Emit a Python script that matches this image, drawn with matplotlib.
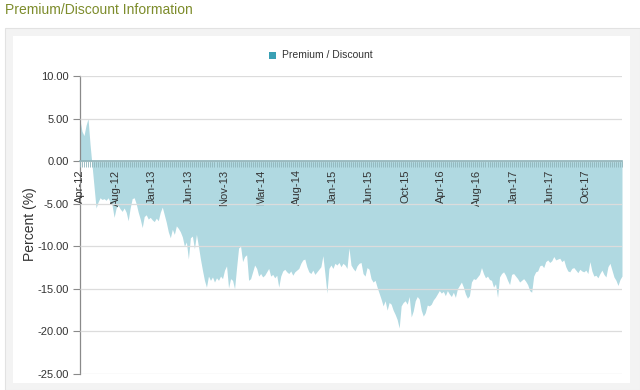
import matplotlib
matplotlib.use("Agg")
import matplotlib.pyplot as plt
from matplotlib.patches import Rectangle
from matplotlib.ticker import FixedLocator, MultipleLocator, FuncFormatter
import numpy as np

plt.rcParams['font.family'] = ['Liberation Sans', 'DejaVu Sans']

title = "Premium/Discount Information"
series_name = "Premium / Discount"
y_label = "Percent (%)"

tick_labels = ["Apr-12", "Aug-12", "Jan-13", "Jun-13", "Nov-13", "Mar-14", "Aug-14",
               "Jan-15", "Jun-15", "Oct-15", "Apr-16", "Aug-16", "Jan-17", "Jun-17", "Oct-17"]
label_step = 18

values_2012 = [4.8, 3.5, 3.0, 4.2, 5.0, 2.0, -0.5, -3.0, -5.5, -4.8, -4.3, -4.5, -4.4, -4.6,
               -4.3, -4.8, -5.2, -6.6, -5.5, -5.2, -5.6, -5.9, -5.5, -6.0, -7.0, -5.5, -4.4, -4.3,
               -5.0, -6.0, -6.8, -7.8, -6.5, -6.3, -6.8, -6.6]
values_2013 = [-6.9, -7.1, -6.7, -7.0, -6.0, -5.4, -6.3, -7.2, -8.3, -9.0, -8.0, -8.6, -7.6,
               -7.9, -8.3, -8.9, -10.0, -9.5, -11.5, -9.0, -8.8, -10.3, -8.6, -10.0, -11.5, -12.8,
               -14.0, -14.8, -13.5, -14.0, -13.6, -14.2, -13.7, -14.0, -13.5, -13.8, -12.8, -12.3,
               -14.9, -13.8, -14.0, -15.0, -12.5, -10.2, -10.0, -11.8, -11.2, -11.0]
values_2014 = [-14.0, -13.8, -13.0, -12.2, -12.6, -13.5, -13.2, -13.6, -13.4, -13.0, -12.6,
               -13.5, -13.3, -13.7, -13.4, -14.8, -13.5, -12.9, -12.7, -13.0, -13.2, -12.9, -13.4,
               -13.0, -12.8, -12.6, -12.0, -11.6, -11.5, -12.4, -13.0, -13.2, -12.8, -13.3, -13.0,
               -12.7, -12.4, -11.1, -13.2, -15.5, -12.6, -12.2, -12.6, -12.0, -12.2, -11.9, -12.4,
               -12.0, -12.2, -12.6]
values_2015 = [-10.2, -12.2, -12.6, -12.9, -12.3, -12.0, -11.9, -13.2, -13.5, -12.5, -12.7,
               -13.8, -14.2, -14.0, -14.8, -15.5, -16.2, -17.0, -16.4, -17.5, -16.6, -16.8, -17.5,
               -18.0, -18.6, -19.6, -17.0, -16.6, -16.4, -16.8, -15.9, -18.3, -17.6, -16.4, -15.9,
               -16.2, -17.5, -18.2, -17.8, -16.9, -17.0, -16.8, -16.3, -16.0, -15.6, -15.2, -15.5,
               -15.3, -15.8, -15.2, -15.6, -15.9, -15.4, -16.0]
values_2016 = [-15.0, -14.6, -14.2, -14.8, -15.6, -16.1, -15.8, -14.2, -13.8, -13.9, -13.6,
               -13.3, -12.5, -13.2, -13.7, -13.5, -13.9, -14.0, -14.8, -14.4, -16.0, -13.6, -13.2,
               -13.0, -13.4, -14.0, -14.5, -13.3, -13.2, -13.5, -13.8, -14.2, -14.0, -13.8, -14.1,
               -14.5, -15.2, -15.4, -13.5, -13.0, -12.9, -12.3, -12.2, -12.5, -11.8, -11.6, -11.9]
values_2017 = [-11.7, -11.2, -11.6, -11.5, -11.4, -11.8, -11.6, -12.4, -12.9, -13.0, -12.6,
               -12.5, -12.8, -13.1, -12.7, -12.9, -13.0, -12.8, -13.2, -11.8, -12.9, -13.5, -13.4,
               -13.7, -13.2, -12.8, -13.3, -13.6, -12.4, -12.0, -12.8, -13.6, -14.0, -14.6, -13.9,
               -13.5]

values = np.array(values_2012 + values_2013 + values_2014 + values_2015 + values_2016 + values_2017)
x = np.arange(len(values))

W, H = 640, 390
fig = plt.figure(figsize=(W / 100, H / 100), dpi=100)
fig.patch.set_facecolor('white')

# panel frame
fig.patches.append(Rectangle((5 / W, 0), 635 / W, 1 - 28 / H, transform=fig.transFigure,
                             facecolor='#f3f3f3', edgecolor='#e2e2e2', lw=0.8, zorder=-2))
fig.patches.append(Rectangle((13 / W, 7 / H), 617 / W, 1 - 36 / H - 7 / H, transform=fig.transFigure,
                             facecolor='white', edgecolor='none', zorder=-1))

fig.text(5 / W, 1 - 10 / H, title, fontsize=10, color='#7d8c2b', ha='left', va='center')

ax = fig.add_axes([80 / W, 1 - 374 / H, 542 / W, (374 - 76) / H])
ax.set_zorder(2)
ax.set_facecolor('none')

ax.fill_between(x, values, 0, color='#3aa0b4', alpha=0.4, lw=0, zorder=2)

ax.set_xlim(0, len(values) - 1)
ax.set_ylim(-25, 10)
ax.yaxis.set_major_locator(MultipleLocator(5))
ax.yaxis.set_major_formatter(FuncFormatter(lambda v, p: f"{v:.2f}"))
ax.grid(axis='y', color='#dcdcdc', lw=0.9, zorder=3)
ax.set_axisbelow(False)

for s in ['top', 'right']:
    ax.spines[s].set_visible(False)
ax.spines['left'].set_color('#8a8a8a')
ax.spines['left'].set_linewidth(0.9)
ax.spines['bottom'].set_position(('data', 0))
ax.spines['bottom'].set_color('#8fb4ba')
ax.spines['bottom'].set_linewidth(1.2)
ax.spines['bottom'].set_zorder(4)

major_pos = [i * label_step for i in range(len(tick_labels))]
ax.xaxis.set_major_locator(FixedLocator(major_pos))
ax.set_xticklabels(tick_labels, rotation=90, fontsize=8, color='#333333')
ax.xaxis.set_minor_locator(FixedLocator(x))
ax.tick_params(axis='x', which='both', direction='out', length=4, width=0.6, color='#8fb4ba', pad=2)
ax.tick_params(axis='y', length=5, width=0.8, color='#8a8a8a', labelsize=8, labelcolor='#333333', pad=3)

fig.text(30 / W, 1 - 224 / H, y_label, rotation=90, fontsize=10, color='#333333',
         ha='center', va='center')

# legend
fig.patches.append(Rectangle((269 / W, 1 - 59 / H), 7 / W, 7 / H, transform=fig.transFigure,
                             facecolor='#3aa0b4', edgecolor='none', zorder=1))
fig.text(282 / W, 1 - 55 / H, series_name, fontsize=7.5, color='#333333', ha='left', va='center')

fig.savefig("out.png", dpi=100)
